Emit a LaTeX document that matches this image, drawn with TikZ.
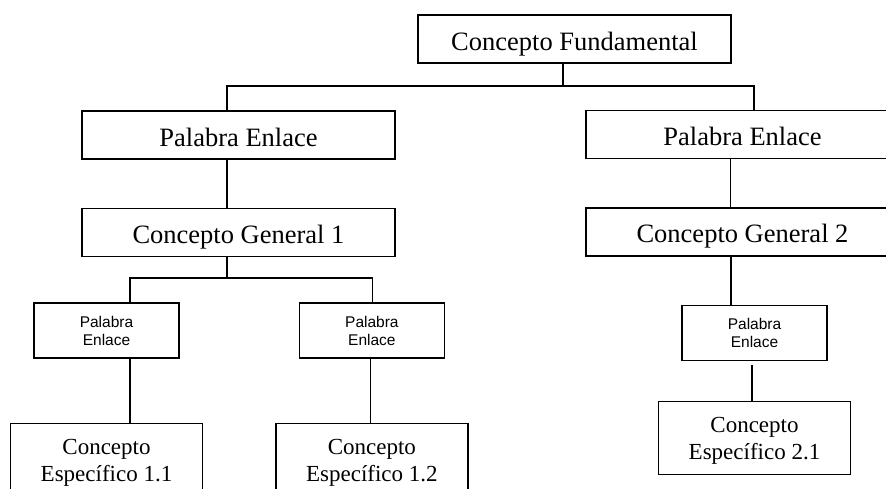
\documentclass[tikz,border=0pt]{standalone}
\usepackage{fontspec}
\setmainfont{Liberation Serif}
\setsansfont{Liberation Sans}
\usetikzlibrary{positioning}

\begin{document}
\begin{tikzpicture}[
    x=1pt, y=-1pt,
    concept/.style={rectangle, draw, line width=1.4pt, minimum width=313pt, minimum height=48pt, inner sep=0pt, text height=22pt, text depth=0pt, font=\fontsize{26.5}{30}\selectfont},
    link/.style={rectangle, draw, line width=1.4pt, align=center, minimum width=145pt, minimum height=55pt, inner sep=0pt, text depth=0pt, font=\sffamily\fontsize{15.5}{18}\selectfont},
    leaf/.style={rectangle, draw, line width=1.4pt, align=center, minimum width=192pt, minimum height=73pt, inner sep=0pt, text depth=0pt, font=\fontsize{23}{27}\selectfont},
    line/.style={line width=1.4pt}
]
\path[use as bounding box] (0,0) rectangle (886,488);
\clip (0,0) rectangle (886,488);

\node[concept] (cf) at (574.5,39) {Concepto Fundamental};
\node[concept] (pel) at (238.5,135) {Palabra Enlace};
\node[concept] (per) at (742.5,134.5) {Palabra Enlace};
\node[concept, below=48pt of pel] (gen1) {Concepto General 1};
\node[concept, below=48pt of per] (gen2) {Concepto General 2};
\node[link] (pe11) at (106.5,330.5) {Palabra\\Enlace};
\node[link, right=119pt of pe11] (pe12) {Palabra\\Enlace};
\node[link, below=48pt of gen2, xshift=12pt] (pe21) {Palabra\\Enlace};
\node[leaf, below=64pt of pe11] (ce11) {Concepto\\Específico 1.1};
\node[leaf, below=64pt of pe12] (ce12) {Concepto\\Específico 1.2};
\node[leaf, below=40pt of pe21] (ce21) {Concepto\\Específico 2.1};

\coordinate (bus1) at (0,86);
\coordinate (bus2) at (0,278);
\draw[line] ([xshift=-11.5pt]cf.south) -- ([xshift=-11.5pt]cf.south |- bus1);
\draw[line] ([xshift=-11.5pt]pel.north) |- ([xshift=11.5pt]per.north |- bus1) -- ([xshift=11.5pt]per.north);
\draw[line] ([xshift=-11.5pt]pel.south) -- ([xshift=-11.5pt]gen1.north);
\draw[line] ([xshift=-12pt]per.south) -- ([xshift=-12pt]gen2.north);
\draw[line] ([xshift=-11.5pt]gen2.south) -- ([xshift=-11.5pt]gen2.south |- pe21.north);
\draw[line] ([xshift=-11.5pt]gen1.south) -- ([xshift=-11.5pt]gen1.south |- bus2);
\draw[line] ([xshift=23.5pt]pe11.north) |- ([xshift=0.5pt]pe12.north |- bus2) -- ([xshift=0.5pt]pe12.north);
\draw[line] ([xshift=23.5pt]pe11.south) -- ([xshift=23.5pt]pe11.south |- ce11.north);
\draw[line] ([xshift=-1.5pt]pe12.south) -- ([xshift=-1.5pt]pe12.south |- ce12.north);
\draw[line] ([shift={(-2.5pt,-4pt)}]pe21.south) -- ([xshift=-2.5pt]pe21.south |- ce21.north);
\end{tikzpicture}
\end{document}
